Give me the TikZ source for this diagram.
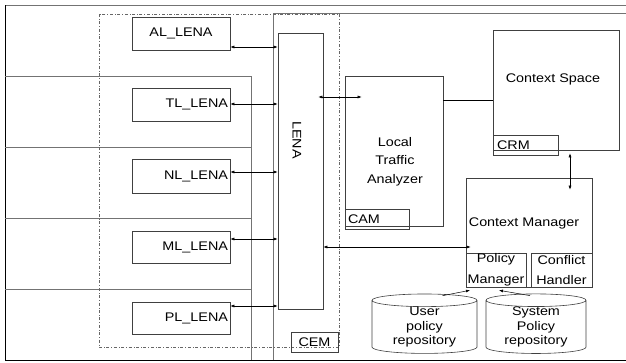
\documentclass[tikz,border=0pt]{standalone}
\usepackage{fontspec}
\setmainfont[FakeStretch=1.15]{Liberation Sans}
\usetikzlibrary{arrows.meta,shapes.geometric,calc}

\begin{document}
\begin{tikzpicture}[x=1pt,y=-1pt,
    >={Latex[length=4pt,width=3pt]},
    font=\fontsize{12.5}{15}\selectfont,
    blk/.style={draw=black!75, line width=0.6pt, inner sep=0pt},
    frame/.style={draw=black!55, line width=0.6pt},
    lnk/.style={<->, line width=0.5pt},
    repo/.style={draw=black!75, line width=0.6pt, cylinder, shape border rotate=90,
      aspect=0.2, minimum height=44pt, inner sep=0pt, align=center,
      font=\fontsize{12.5}{14.5}\selectfont}]
  \useasboundingbox (0,0) rectangle (626,362);

  % frames and layers
  \draw[frame] (626,5) -- (5,5);
  \draw[line width=0.9pt] (5,5) -- (5,360) -- (626,360);
  \draw[frame] (273,360) -- (273,13.5) -- (626,13.5);
  \foreach \y in {76,147,218,289}
    \draw[frame] (5,\y) -- (251,\y);
  \draw[frame] (251,76) -- (251,360);
  \draw[black!60, dash dot, line width=0.5pt] (99,14) rectangle (339,347);

  % layer entities
  \node[blk, minimum width=98pt, minimum height=33pt] (al) at (181,33.5) {AL\_LENA};
  \node[blk, minimum width=98pt, minimum height=33pt, text width=94pt, align=right] (tl) at (181,104.5) {TL\_LENA};
  \node[blk, minimum width=98pt, minimum height=34pt, text width=94pt, align=right] (nl) at (181,176) {NL\_LENA};
  \node[blk, minimum width=98pt, minimum height=32pt, text width=94pt, align=right] (ml) at (181,247) {ML\_LENA};
  \node[blk, minimum width=98pt, minimum height=32pt, text width=94pt, align=right] (pl) at (181,318) {PL\_LENA};

  \node[blk, minimum width=45pt, minimum height=276pt] (lena) at (300.5,171) {};
  \node[rotate=-90] (lenatxt) at (297,140) {LENA};
  \node[blk, minimum width=47pt, minimum height=20pt] (cem) at (314.5,342) {CEM};

  % context awareness
  \node[blk, minimum width=98pt, minimum height=150pt] (lta) at (394,151) {};
  \node[align=center, font=\fontsize{12.5}{18.5}\selectfont] (ltatxt) at (395,161.5) {Local\\Traffic\\Analyzer};
  \node[blk, minimum width=64pt, minimum height=20pt, text width=58pt, align=left] (cam) at (377,219) {CAM};

  \node[blk, minimum width=126pt, minimum height=120pt] (cs) at (556,90) {};
  \node (cstxt) at (553,79) {Context Space};
  \node[blk, minimum width=65pt, minimum height=20pt, text width=57pt, align=left] (crm) at (525.5,145) {CRM};

  \node[blk, minimum width=126pt, minimum height=109pt] (cm) at (529,232.5) {};
  \node (cmtxt) at (524,223) {Context Manager};
  \node[blk, minimum width=60pt, minimum height=34pt, align=center, font=\fontsize{12.5}{20.5}\selectfont] (pm) at (496,270) {Policy\\Manager};
  \node[blk, minimum width=61pt, minimum height=34pt, align=center, font=\fontsize{12.5}{20.5}\selectfont] (ch) at (561.5,270) {Conflict\\Handler};

  \node[repo, minimum width=105pt] (user) at (424.5,327) {User\\policy\\repository};
  \node[repo, minimum width=100pt] (sys) at (536,327) {System\\Policy\\repository};

  % connectors
  \foreach \n/\y in {al/47,tl/104,nl/172,ml/239,pl/306}
    \draw[lnk] (\n.east |- 0,\y) -- (lena.west |- 0,\y);
  \draw[lnk] ($(lena.east |- 0,97)+(-5,0)$) -- ($(lta.west |- 0,97)+(17,0)$);
  \draw[line width=0.5pt] (lta.east |- 0,100) -- (cs.west |- 0,100);
  \draw[lnk] ($(cs.south -| 570,0)+(0,3)$) -- ($(cm.north -| 570,0)+(0,12)$);
  \draw[lnk] (lena.east |- 0,247) -- ($(cm.west |- 0,247)+(5,0)$);
  \draw[->, line width=0.5pt] ($(user.north)+(18,2)$) -- ($(pm.south)+(-26,3)$);
  \draw[->, line width=0.5pt] ($(sys.north)+(-6,2)$) -- ($(pm.south)+(3,3)$);
\end{tikzpicture}
\end{document}
